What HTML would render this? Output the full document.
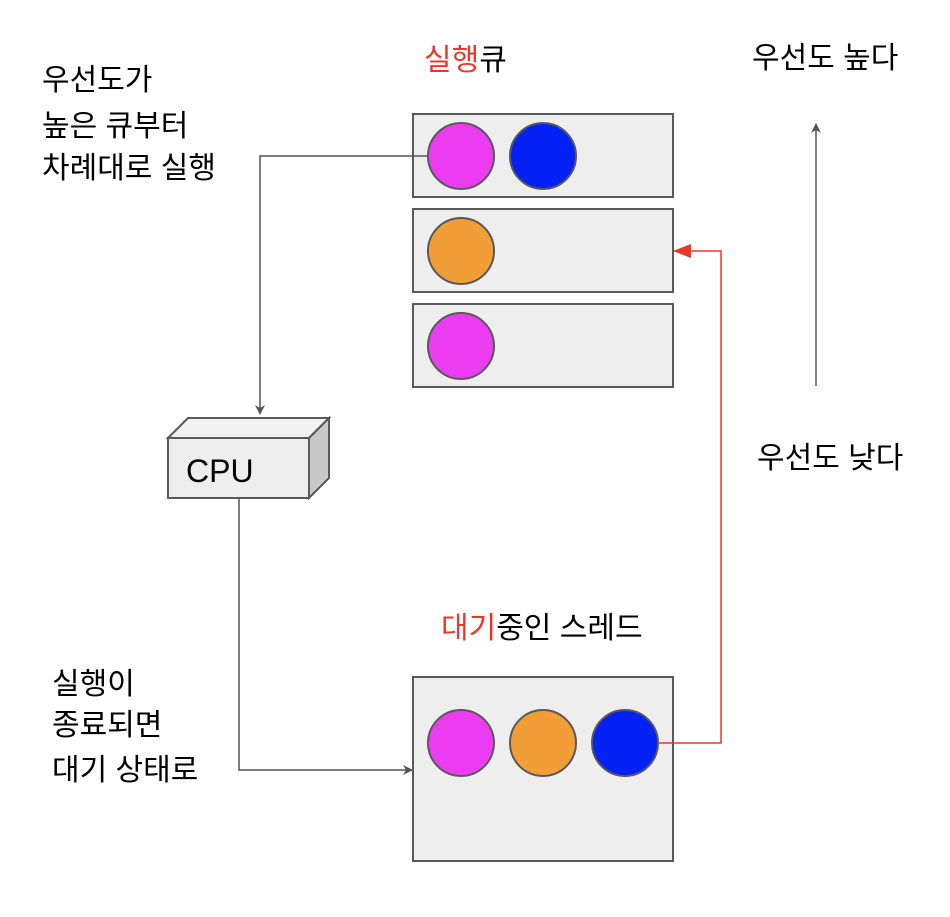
<!DOCTYPE html>
<html><head><meta charset="utf-8"><style>
body{margin:0;background:#fff}
svg text{font-family:"Liberation Sans","Noto Sans CJK KR",sans-serif;font-size:30px;fill:#000}
</style></head><body>
<svg width="950" height="912" xmlns="http://www.w3.org/2000/svg">
<defs>
<marker id="a" markerWidth="10" markerHeight="10" refX="9" refY="5" orient="auto" markerUnits="userSpaceOnUse"><path d="M0,0 L10,5 L0,10 L3,5 Z" fill="#555"/></marker>
<marker id="r" markerWidth="18" markerHeight="14" refX="17" refY="7" orient="auto" markerUnits="userSpaceOnUse"><path d="M0,0 L18,7 L0,14 Z" fill="#e8382b"/></marker>
</defs>
<g fill="#eee" stroke="#595959" stroke-width="2">
<rect x="413" y="114" width="260" height="83"/>
<rect x="413" y="209" width="260" height="83"/>
<rect x="413" y="304" width="260" height="83"/>
<rect x="413" y="677" width="260" height="184"/>
</g>
<g stroke="#595959" stroke-width="2">
<circle cx="461" cy="156" r="33" fill="#ec3cf2"/>
<circle cx="543" cy="156" r="33" fill="#0422f6"/>
<circle cx="461" cy="251" r="33" fill="#f29e38"/>
<circle cx="461" cy="346" r="33" fill="#ec3cf2"/>
<circle cx="461" cy="743" r="33" fill="#ec3cf2"/>
<circle cx="543" cy="743" r="33" fill="#f29e38"/>
<circle cx="625" cy="743" r="33" fill="#0422f6"/>
</g>
<g stroke="#595959" stroke-width="2">
<polygon points="168,438 188,418 329,418 309,438" fill="#f2f2f2"/>
<polygon points="309,438 329,418 329,478 309,498" fill="#c8c8c8"/>
<rect x="168" y="438" width="141" height="60" fill="#eee"/>
</g>
<text x="186" y="482" style="font-size:32px">CPU</text>
<g fill="none" stroke="#555" stroke-width="1.5">
<polyline points="428,156 260,156 260,414" marker-end="url(#a)"/>
<polyline points="239,498 239,770 412,770" marker-end="url(#a)"/>
<line x1="816" y1="386" x2="816" y2="124" marker-end="url(#a)"/>
</g>
<polyline points="658,743 721,743 721,251 674,251" fill="none" stroke="#e8382b" stroke-width="1.5" marker-end="url(#r)"/>
<text x="42" y="90">우선도가</text>
<text x="42" y="136">높은 큐부터</text>
<text x="42" y="178">차례대로 실행</text>
<text x="424" y="70"><tspan fill="#e8382b" style="fill:#e8382b">실행</tspan>큐</text>
<text x="752" y="68">우선도 높다</text>
<text x="757" y="468">우선도 낮다</text>
<text x="441" y="638"><tspan style="fill:#e8382b">대기</tspan>중인 스레드</text>
<text x="52" y="694">실행이</text>
<text x="52" y="735">종료되면</text>
<text x="52" y="780">대기 상태로</text>
</svg>
</body></html>
